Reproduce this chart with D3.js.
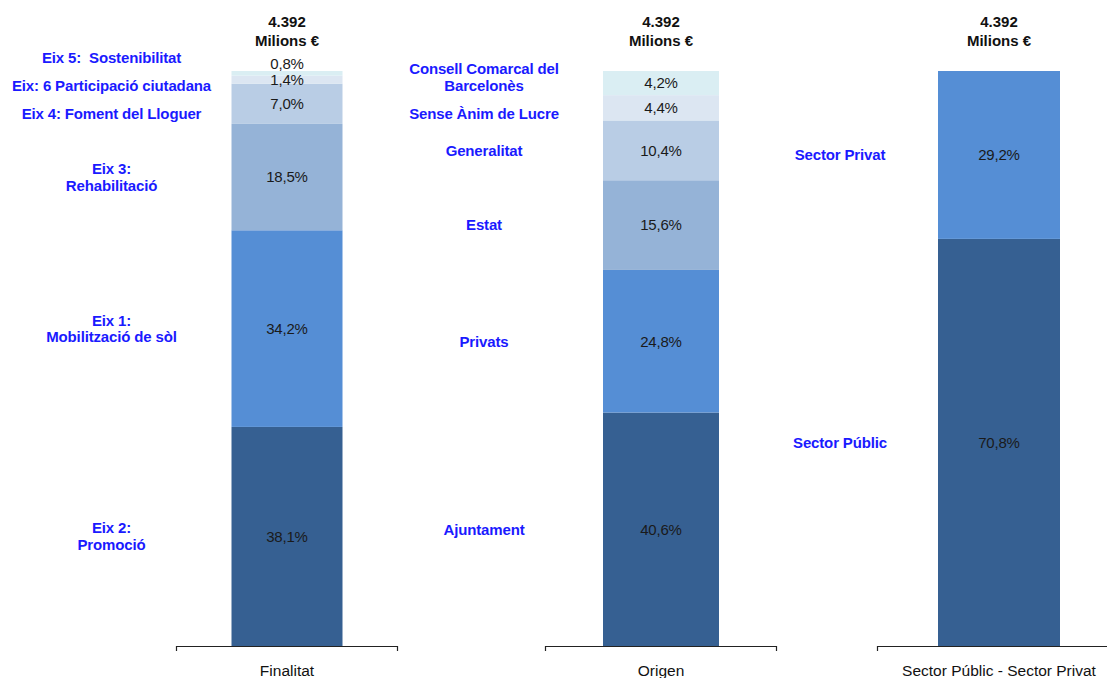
<!DOCTYPE html>
<html>
<head>
<meta charset="utf-8">
<script src="https://cdn.jsdelivr.net/npm/d3@7"></script>
<style>
  body { margin: 0; background: #fff; }
  svg { display: block; font-family: "Liberation Sans", Arial, sans-serif; }
  .cat { fill: #1a1aff; font-weight: bold; font-size: 15px; letter-spacing: -0.15px; white-space: pre; }
  .val { fill: #1a1a1a; font-size: 15px; letter-spacing: -0.2px; }
  .head { fill: #111; font-weight: bold; font-size: 15px; }
  .axisLabel { fill: #111; font-size: 15.5px; }
</style>
</head>
<body>
<div id="chart"></div>
<script>
// three stacked bars, values bottom -> top
var panels = ['Finalitat', 'Origen', 'Sector Públic - Sector Privat'];
var totalLabel = ['4.392', 'Milions €'];

var finalitatNames = [['Eix 2:', 'Promoció'], ['Eix 1:', 'Mobilització de sòl'], ['Eix 3:', 'Rehabilitació'],
                      ['Eix 4: Foment del Lloguer'], ['Eix: 6 Participació ciutadana'], ['Eix 5:  Sostenibilitat']];
var finalitatValues = [38.1, 34.2, 18.5, 7.0, 1.4, 0.8];

var origenNames = [['Ajuntament'], ['Privats'], ['Estat'], ['Generalitat'], ['Sense Ànim de Lucre'],
                   ['Consell Comarcal del', 'Barcelonès']];
var origenValues = [40.6, 24.8, 15.6, 10.4, 4.4, 4.2];

var sectorNames = [['Sector Públic'], ['Sector Privat']];
var sectorValues = [70.8, 29.2];

var colors = ['#366092', '#558ed5', '#95b3d7', '#b9cde5', '#dce6f2', '#daeef3'];

var W = 1107, H = 678;
var baseY = 646, topY = 71;
// x extent of each panel's axis, and how far left of the bar the names sit
var panelRange = [[176, 398], [545, 777], [877, 1121]];
var nameOffset = [120, 119, 98];

var svg = d3.select('#chart').append('svg').attr('width', W).attr('height', H);

var y = d3.scaleLinear().domain([0, 100]).range([baseY, topY]);

// spread label centres apart so they don't collide, keeping the group centred
function spread(items, gapFn) {
    for (var it = 0; it < 200; it++) {
        for (var i = 0; i < items.length - 1; i++) {
            var a = items[i], b = items[i + 1];    // a is below b
            var need = gapFn(a, b);
            var d = a.y - b.y;
            if (d < need) {
                var push = (need - d) / 2;
                a.y += push; b.y -= push;
            }
        }
    }
}

var allData = [
    { names: finalitatNames, values: finalitatValues },
    { names: origenNames, values: origenValues },
    { names: sectorNames, values: sectorValues }
];

allData.forEach(function(d, p) {
    var x = d3.scaleBand().domain([panels[p]]).range(panelRange[p]).paddingInner(0).paddingOuter(0.5);
    var g = svg.append('g');

    var cum = 0;
    var segs = d.values.map(function(v, i) {
        var s = { v: v, y0: cum, y1: cum + v, name: d.names[i], color: colors[i] };
        cum += v;
        return s;
    });

    g.selectAll('rect').data(segs).enter().append('rect')
        .attr('x', x(panels[p]))
        .attr('width', x.bandwidth())
        .attr('y', function(s) { return y(s.y1); })
        .attr('height', function(s) { return y(s.y0) - y(s.y1); })
        .attr('fill', function(s) { return s.color; });

    // value labels, nudged up when a slice is too thin
    var vals = segs.map(function(s) { return { s: s, y: y((s.y0 + s.y1) / 2) }; });
    for (var i = 1; i < vals.length; i++) {
        if (vals[i - 1].y - vals[i].y < 16) vals[i].y = vals[i - 1].y - 16;
    }
    g.selectAll('text.val').data(vals).enter().append('text')
        .attr('class', 'val')
        .attr('x', x(panels[p]) + x.bandwidth() / 2)
        .attr('y', function(l) { return l.y; })
        .attr('dy', '0.35em')
        .attr('text-anchor', 'middle')
        .text(function(l) { return l.s.v.toFixed(1).replace('.', ',') + '%'; });

    // category names to the left
    var names = segs.map(function(s) { return { s: s, y: y((s.y0 + s.y1) / 2) }; });
    spread(names, function(a, b) {
        return (a.s.name.length + b.s.name.length) * 8.5 + 11;
    });
    var nx = x(panels[p]) - nameOffset[p];
    names.forEach(function(l) {
        var lines = l.s.name;
        var t = g.append('text').attr('class', 'cat').attr('text-anchor', 'middle');
        lines.forEach(function(line, k) {
            t.append('tspan')
                .attr('x', nx)
                .attr('y', l.y + (k - (lines.length - 1) / 2) * 16.5)
                .attr('dy', '0.35em')
                .text(line);
        });
    });

    // total on top
    var cx = x(panels[p]) + x.bandwidth() / 2;
    totalLabel.forEach(function(line, k) {
        g.append('text').attr('class', 'head')
            .attr('x', cx).attr('y', 22 + k * 19)
            .attr('dy', '0.35em')
            .attr('text-anchor', 'middle')
            .text(line);
    });

    // axis with end ticks
    var r = panelRange[p];
    g.append('path')
        .attr('d', 'M' + (r[0] + 0.5) + ',' + (baseY + 5) + 'V' + (baseY + 0.5) + 'H' + (r[1] - 0.5) + 'V' + (baseY + 5))
        .attr('fill', 'none')
        .attr('stroke', '#222')
        .attr('stroke-width', 1.2);

    g.append('text').attr('class', 'axisLabel')
        .attr('x', (r[0] + r[1]) / 2)
        .attr('y', 671)
        .attr('dy', '0.35em')
        .attr('text-anchor', 'middle')
        .text(panels[p]);
});
</script>
</body>
</html>
